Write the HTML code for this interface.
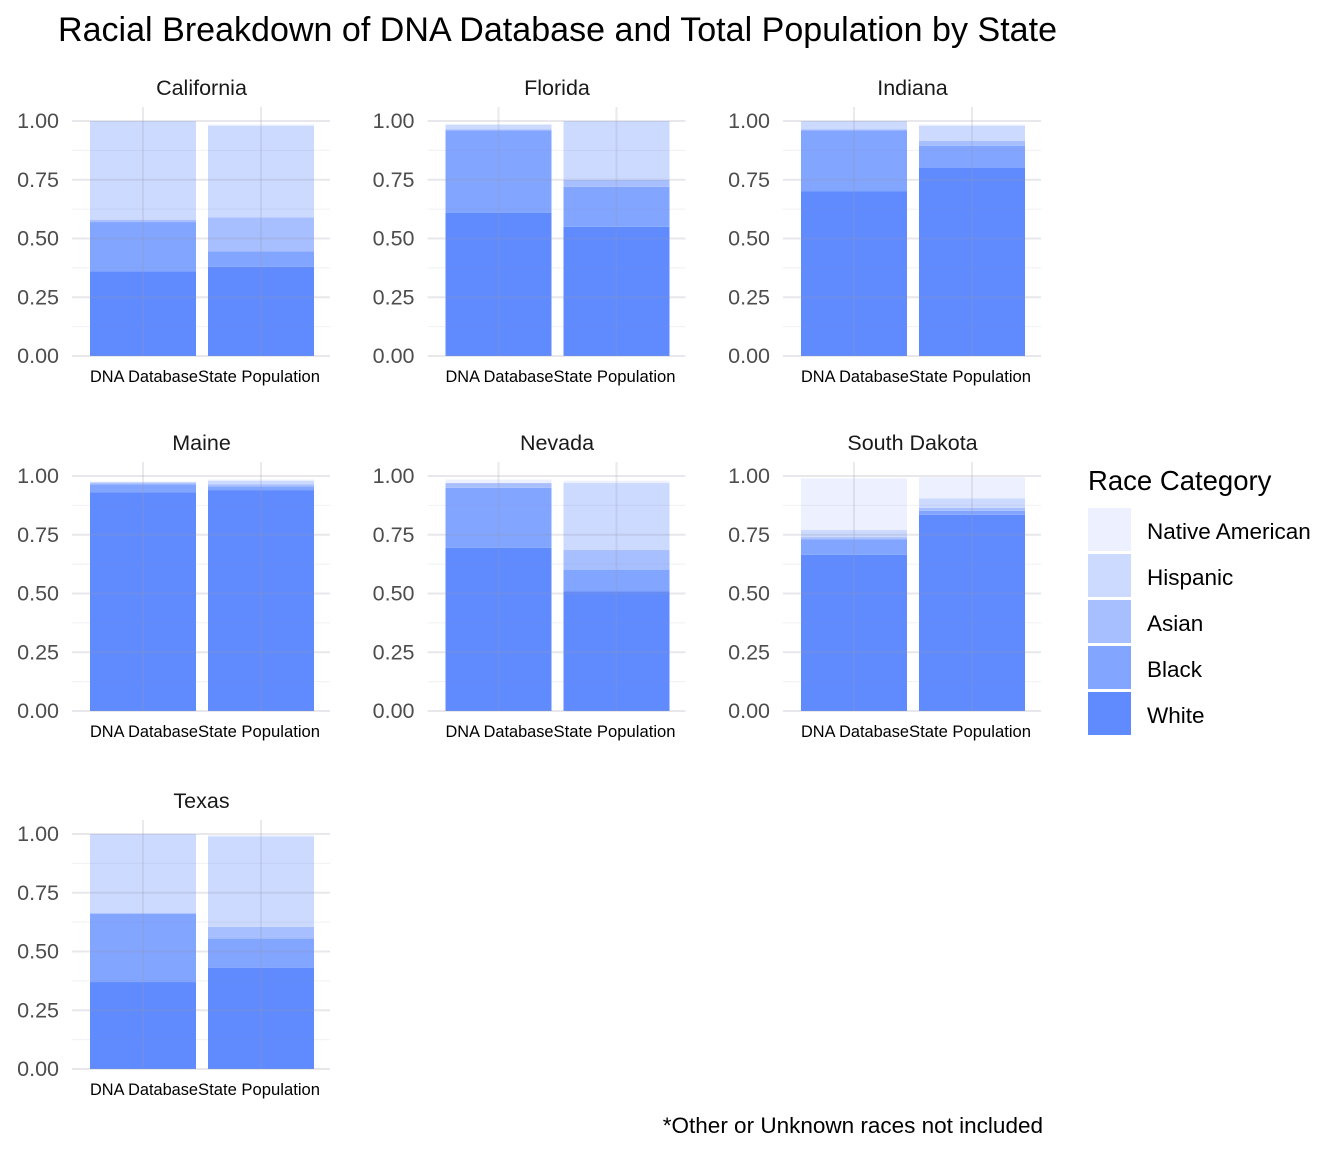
<!DOCTYPE html>
<html><head><meta charset="utf-8"><style>
html,body{margin:0;padding:0;background:#fff;}
svg{display:block;font-family:"Liberation Sans",Arial,sans-serif;}
</style></head><body>
<svg id="chart" width="1344" height="1152">
<text x="58" y="41" font-size="34" textLength="999" fill="#000">Racial Breakdown of DNA Database and Total Population by State</text>
<g id="panels"></g>
<g>
<text x="1088" y="490" font-size="27.5" fill="#000">Race Category</text>
<g id="legend"></g>
</g>
<text x="1043" y="1133" font-size="22.5" fill="#000" text-anchor="end">*Other or Unknown races not included</text>
</svg>
<script>
const states = ["California","Florida","Indiana","Maine","Nevada","South Dakota","Texas"];
const groups = ["DNA Database","State Population"];
const races = ["White","Black","Asian","Hispanic","Native American"];
const colors = ["#5f8bff","#82a5ff","#a8bfff","#ccdaff","#edf1ff"];
// per state: [DNA values], [State values] in race order
const white    = [[0.36,0.38],[0.61,0.55],[0.70,0.80],[0.93,0.94],[0.695,0.51],[0.665,0.835],[0.37,0.43]];
const black    = [[0.21,0.065],[0.35,0.17],[0.26,0.095],[0.035,0.015],[0.255,0.09],[0.065,0.017],[0.29,0.125]];
const asian    = [[0.01,0.145],[0.005,0.03],[0.005,0.02],[0.005,0.01],[0.02,0.085],[0.01,0.013],[0.005,0.05]];
const hispanic = [[0.42,0.39],[0.02,0.25],[0.035,0.065],[0.005,0.015],[0.0,0.285],[0.03,0.04],[0.335,0.385]];
const native   = [[0.0,0.005],[0.0,0.0],[0.0,0.005],[0.0,0.005],[0.015,0.01],[0.22,0.09],[0.0,0.005]];
const yTicks = ["0.00","0.25","0.50","0.75","1.00"];

const NS="http://www.w3.org/2000/svg";
const P=document.getElementById('panels');
function mk(t,a,parent){const e=document.createElementNS(NS,t);for(const k in a)e.setAttribute(k,a[k]);(parent||P).appendChild(e);return e;}
const colX=[72,427.5,783], rowTop=[121,476,834], H=235, W=258;
const series=[white,black,asian,hispanic,native];
states.forEach((s,i)=>{
  const px=colX[i%3], top=rowTop[Math.floor(i/3)], bot=top+H;
  const y=v=>bot-v*H;
  const g=mk('g',{});
  
  
  const cp=mk('clipPath',{id:'cp'+i},g); mk('rect',{x:px-80,y:top-60,width:W+100,height:H+97},cp);
  const t=mk('text',{x:px+W/2+0.5,y:top-26,'font-size':21.5,'text-anchor':'middle',fill:'#1a1a1a'},g);t.textContent=s;
  
  
  const bx=[px+18,px+136], bw=106;
  groups.forEach((gr,j)=>{
    let cum=0;
    series.forEach((ser,k)=>{
      const v=ser[i][j]; if(v<=0){return;}
      const r=mk('rect',{x:bx[j],y:y(cum+v),width:bw,height:v*H,fill:colors[k]},g);
      
      
      cum+=v;
    });
  });
  for(let k=0;k<=8;k++){
    const yy=y(k/8);
    mk('line',{x1:px,x2:px+W,y1:yy,y2:yy,stroke:k%2?'rgba(150,150,170,0.13)':'rgba(150,150,170,0.22)','stroke-width':k%2?1:2},g);
  }
  bx.forEach(b=>mk('line',{x1:b+bw/2,x2:b+bw/2,y1:top-14,y2:bot,stroke:'rgba(150,150,170,0.2)','stroke-width':2},g));
  yTicks.forEach((lab,k)=>{
    const tt=mk('text',{x:px-13,y:y(k*0.25)+7,'font-size':21.5,'text-anchor':'end',fill:'#4d4d4d'},g);tt.textContent=lab;
    
    
  });
  groups.forEach((gr,j)=>{
    const tt=mk('text',{x:bx[j]+bw/2+(j?-2:1),y:bot+26,'font-size':16.5,'text-anchor':'middle',textLength:(j?122:108),lengthAdjust:'spacingAndGlyphs',fill:'#000','clip-path':'url(#cp'+i+')'},g);tt.textContent=gr;
    
    
  });
});
const L=document.getElementById('legend');
races.slice().reverse().forEach((r,k)=>{
  const ci=races.length-1-k, yy=508+k*46;
  const rc=mk('rect',{x:1088,y:yy,width:43,height:43,fill:colors[ci]},L);
  
  
  const tt=mk('text',{x:1147,y:yy+31,'font-size':22.5,fill:'#000'},L);tt.textContent=r;
  
  
});
</script>
</body></html>
